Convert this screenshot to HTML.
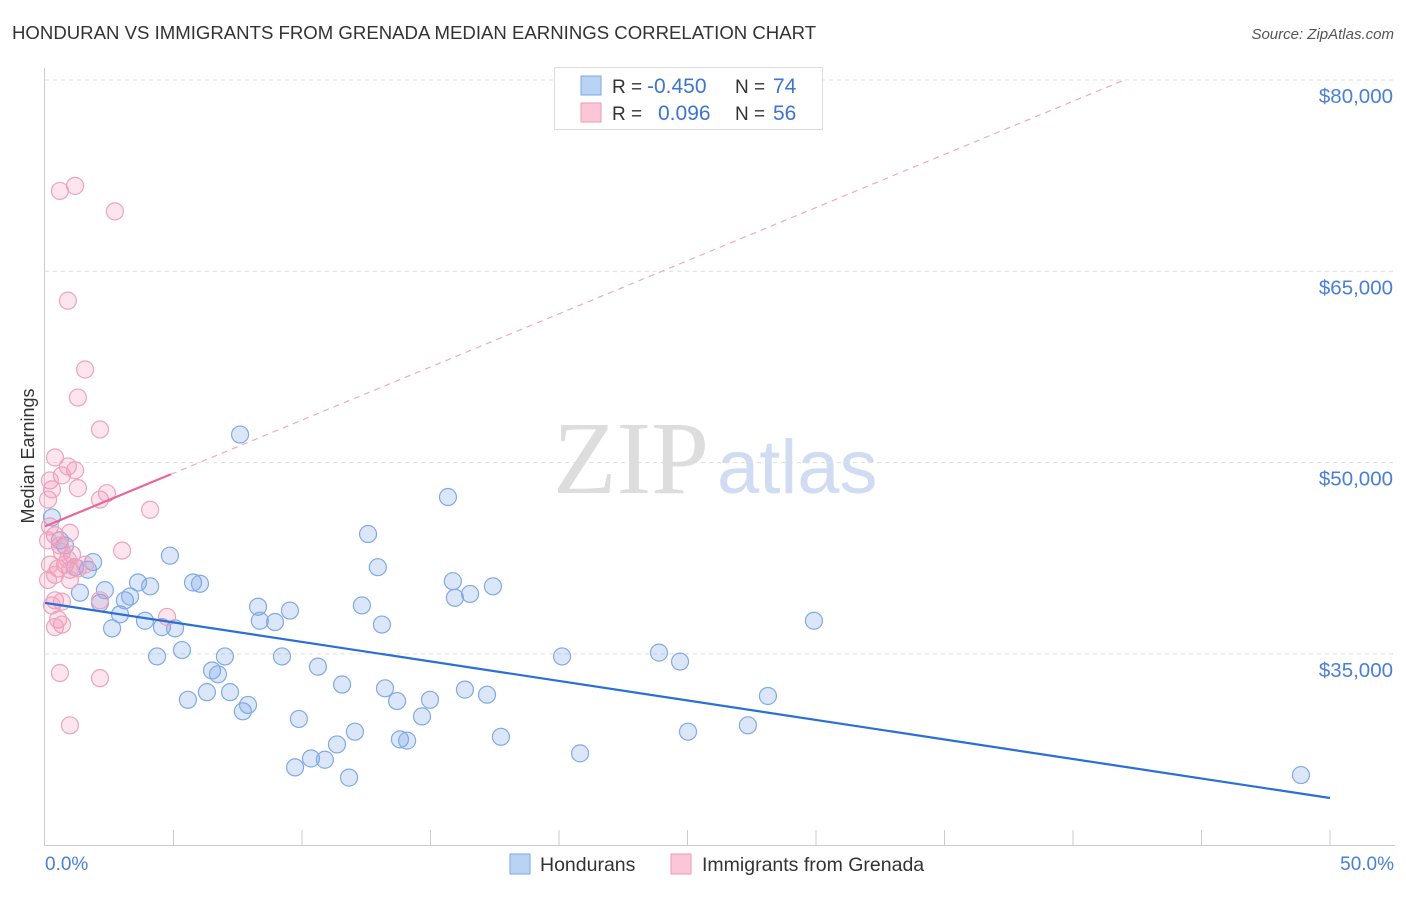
<!DOCTYPE html>
<html><head><meta charset="utf-8"><style>
body{margin:0;background:#fff;font-family:"Liberation Sans",sans-serif;}
svg text{font-family:"Liberation Sans",sans-serif;}
</style></head><body>
<svg id="chart" width="1406" height="892">
<text x="12" y="39" font-size="18.6" fill="#333">HONDURAN VS IMMIGRANTS FROM GRENADA MEDIAN EARNINGS CORRELATION CHART</text>
<text x="1394" y="39" font-size="15" fill="#555" font-style="italic" text-anchor="end">Source: ZipAtlas.com</text>
<g>
<text x="553" y="493" font-size="104" fill="#ddd" style="font-family:'Liberation Serif',serif">ZIP</text>
<text x="717" y="493" font-size="76" fill="#cfdcf2">atlas</text>
</g>
<g id="grid"></g><g id="axes"></g><g id="marks"></g>
<text transform="translate(34,456) rotate(-90)" font-size="18" fill="#333" text-anchor="middle">Median Earnings</text>
<text x="45" y="870" font-size="19" fill="#4a7fd6">0.0%</text>
<text x="1394" y="870" font-size="19" fill="#4a7fd6" text-anchor="end">50.0%</text>
<g>
<rect x="554.5" y="67.5" width="268" height="62" fill="#fff" stroke="#ddd"/>
<rect x="581" y="76" width="20" height="19" fill="#b9d3f5" stroke="#7aa7e3"/>
<rect x="581" y="103" width="20" height="19" fill="#fbc6d6" stroke="#ec9ab6"/>
<text x="612" y="93" font-size="19" fill="#333">R =</text><text x="647" y="93" font-size="21" fill="#3d74d0">-0.450</text>
<text x="735" y="93" font-size="19" fill="#333">N =</text><text x="773" y="93" font-size="21" fill="#3d74d0">74</text>
<text x="612" y="120" font-size="19" fill="#333">R =</text><text x="658" y="120" font-size="21" fill="#3d74d0">0.096</text>
<text x="735" y="120" font-size="19" fill="#333">N =</text><text x="773" y="120" font-size="21" fill="#3d74d0">56</text>
</g>
<g>
<rect x="510" y="854" width="20" height="20" fill="#b9d3f5" stroke="#7aa7e3"/>
<text x="540" y="871" font-size="19.5" fill="#333">Hondurans</text>
<rect x="671" y="854" width="20" height="20" fill="#fbc6d6" stroke="#ec9ab6"/>
<text x="702" y="871" font-size="19.5" fill="#333">Immigrants from Grenada</text>
</g>
</svg>
<script>
const yTicks=[80000,65000,50000,35000];
const yTickLabels=["$80,000","$65,000","$50,000","$35,000"];
const xTicks=[0,5,10,15,20,25,30,35,40,45,50];
const blueX=[0.27,0.58,0.78,1.87,1.67,1.17,1.36,2.14,2.33,2.61,2.92,3.11,3.31,3.62,3.89,4.09,4.36,4.55,4.86,5.06,5.33,5.56,5.76,6.03,6.30,6.50,6.73,7.00,7.20,7.70,7.90,7.59,8.29,8.36,8.95,9.22,9.53,9.73,9.88,10.35,10.62,10.89,11.36,11.56,11.83,12.06,12.33,12.57,12.95,13.11,13.23,13.70,13.81,14.09,14.67,14.98,15.68,15.87,15.95,16.34,16.54,17.20,17.43,17.74,20.12,20.82,23.89,24.71,25.02,27.35,28.13,29.92,48.87];
const blueY=[45700,43900,43500,42200,41600,41800,39800,39000,40000,37000,38100,39200,39500,40600,37600,40300,34800,37100,42700,37000,35300,31400,40600,40500,32000,33700,33400,34800,32000,30500,31000,52200,38700,37600,37500,34800,38400,26100,29900,26800,34000,26700,27900,32600,25300,28900,38800,44400,41800,37300,32300,31300,28300,28200,30100,31400,47300,40700,39400,32200,39700,31800,40300,28500,34800,27200,35100,34400,28900,29400,31700,37600,25500];
const pinkX=[0.58,1.17,2.72,0.89,1.56,1.28,2.14,0.39,0.66,0.89,1.17,0.19,1.28,0.27,2.14,2.41,4.09,0.12,0.19,0.39,0.97,0.58,0.66,1.05,0.78,0.51,0.97,1.56,0.39,1.28,3.00,0.12,0.97,0.39,0.66,2.14,4.75,0.51,0.66,0.39,0.58,2.14,0.97,0.12,0.19,0.89,0.27];
const pinkY=[71300,71700,69700,62700,57300,55100,52600,50400,49000,49700,49400,48600,48000,47900,47100,47600,46300,47100,45000,44300,44500,43500,43000,42800,42000,41700,41600,42000,41200,41700,43100,40800,40800,39200,39100,39200,37900,37700,37300,37100,33500,33100,29400,43900,42000,42400,38800];
const blueTrend=[39000,23700];
const pinkTrend=[45000,80000,42,4.9];
const NS="http://www.w3.org/2000/svg";
const X=v=>45+v/50*1285;
const Y=v=>80+(80000-v)/15000*191.3;
function mk(tag,attrs,parent){const e=document.createElementNS(NS,tag);for(const k in attrs)e.setAttribute(k,attrs[k]);document.getElementById(parent).appendChild(e);return e;}
yTicks.forEach((t,i)=>{
 const l=mk('line',{x1:45,x2:1395,y1:Y(t),y2:Y(t),stroke:'#ddd','stroke-dasharray':'4,4'},'grid');
 
 
 const tx=mk('text',{x:1393,y:Y(t)+23,'font-size':20.5,fill:'#4a7fd6','text-anchor':'end'},'grid');
 tx.textContent=yTickLabels[i];
 
 
});
const ax=mk('line',{x1:44.5,x2:44.5,y1:68,y2:845,stroke:'#ccc'},'axes');


const bx=mk('line',{x1:44,x2:1395,y1:845.5,y2:845.5,stroke:'#ccc'},'axes');


xTicks.slice(1).forEach(t=>{
 const l=mk('line',{x1:X(t),x2:X(t),y1:830,y2:845,stroke:'#ccc'},'axes');
 
 
});
blueX.forEach((x,i)=>{
 const c=mk('circle',{cx:X(x),cy:Y(blueY[i]),r:8.5,fill:'rgba(110,160,230,0.25)',stroke:'#80aae4','stroke-width':1.2},'marks');
 
 
});
pinkX.forEach((x,i)=>{
 const c=mk('circle',{cx:X(x),cy:Y(pinkY[i]),r:8.5,fill:'rgba(245,150,185,0.25)',stroke:'#eea2bc','stroke-width':1.2},'marks');
 
 
});
const bt=mk('line',{x1:X(0),y1:Y(blueTrend[0]),x2:X(50),y2:Y(blueTrend[1]),stroke:'#2a6fd6','stroke-width':2.2},'marks');


const ps=(pinkTrend[1]-pinkTrend[0])/pinkTrend[2];
const pt=mk('line',{x1:X(0),y1:Y(pinkTrend[0]),x2:X(pinkTrend[3]),y2:Y(pinkTrend[0]+ps*pinkTrend[3]),stroke:'#e8679a','stroke-width':2.2},'marks');


const pd=mk('line',{x1:X(pinkTrend[3]),y1:Y(pinkTrend[0]+ps*pinkTrend[3]),x2:X(pinkTrend[2]),y2:Y(pinkTrend[1]),stroke:'#eeaac2','stroke-width':1.2,'stroke-dasharray':'6,5'},'marks');


</script>
</body></html>
